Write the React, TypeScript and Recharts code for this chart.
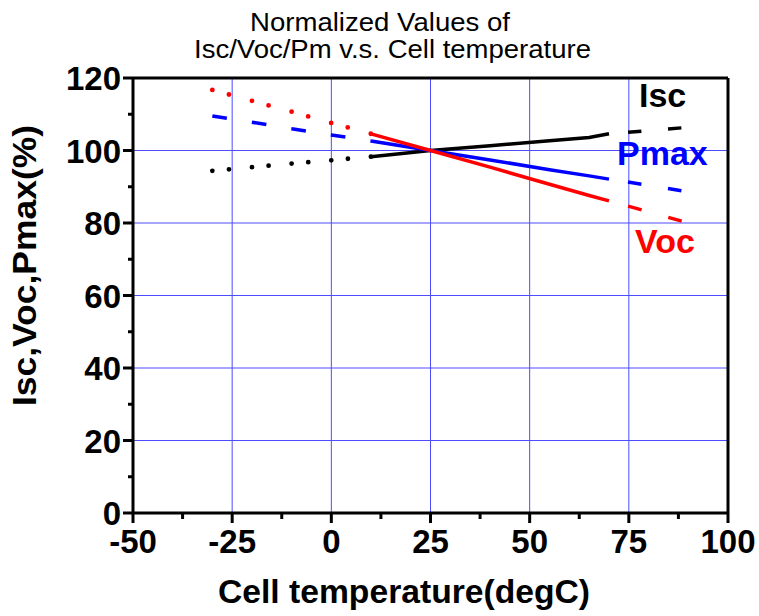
import React from "react";
import { LineChart, Line, XAxis, YAxis, CartesianGrid, ReferenceLine } from "recharts";

// temperatures (degC) for each piece of the curves
const tempLeft = [-30, -20, -10, 0, 10];
const tempMid = [10, 25, 40, 55, 65, 70];
const tempRight = [70, 80, 90];

// normalized values (%)
const iscLeft = [94.4, 95.4, 96.4, 97.3, 98.3];
const iscMid = [98.3, 100, 101.3, 102.7, 103.6, 104.6];
const iscRight = [104.6, 105.5, 106.4];

const vocLeft = [116.7, 113.7, 110.7, 107.6, 104.6];
const vocMid = [104.6, 100, 95.4, 90.7, 87.6, 86.1];
const vocRight = [86.1, 83.1, 80.0];

const pmaxLeft = [109.5, 107.8, 106.0, 104.3, 102.6];
const pmaxMid = [102.6, 100, 97.4, 94.7, 93.0, 92.1];
const pmaxRight = [92.1, 90.4, 88.6];

const xMajor = [-50, -25, 0, 25, 50, 75, 100];
const xMinor = [-37.5, -12.5, 12.5, 37.5, 62.5, 87.5];
const yMajor = [0, 20, 40, 60, 80, 100, 120];
const yMinor = [10, 30, 50, 70, 90, 110];

const FONT = "'Liberation Sans', Arial, sans-serif";
const RED = "#ff0000";
const BLUE = "#0000ff";
const BLACK = "#000000";
const GRID = "#4d4dff";

const toRows = (temps: number[], vals: number[]) =>
  temps.map((t, i) => ({ t, v: vals[i] }));

// tickSize/tickMargin are 0, so x,y is the point where the tick meets the axis
const XTick = (props: any) => {
  const { x, y, payload } = props;
  const major = xMajor.includes(payload.value);
  return (
    <g>
      <line x1={x} x2={x} y1={y} y2={y + (major ? 10 : 6)} stroke={BLACK} strokeWidth={3} />
      {major && (
        <text x={x} y={y + 40} textAnchor="middle" fontFamily={FONT} fontSize={33} fontWeight="bold" fill={BLACK}>
          {payload.value}
        </text>
      )}
    </g>
  );
};

const YTick = (props: any) => {
  const { x, y, payload } = props;
  const major = yMajor.includes(payload.value);
  return (
    <g>
      <line x1={x - (major ? 10 : 5)} x2={x} y1={y} y2={y} stroke={BLACK} strokeWidth={3} />
      {major && (
        <text x={x - 12} y={y + 12} textAnchor="end" fontFamily={FONT} fontSize={33} fontWeight="bold" fill={BLACK}>
          {payload.value}
        </text>
      )}
    </g>
  );
};

export default function App() {
  const W = 759;
  const H = 616;

  return (
    <div style={{ position: "absolute", left: 0, top: 0, width: W, height: H, background: "#fff" }}>
      <LineChart width={W} height={H} margin={{ top: 78, right: 31, bottom: 63, left: 73 }}>
        <CartesianGrid
          stroke={GRID}
          strokeWidth={1}
          horizontalValues={yMajor.slice(1, -1)}
          verticalValues={xMajor.slice(1, -1)}
        />
        <XAxis
          type="number"
          dataKey="t"
          domain={[-50, 100]}
          ticks={[...xMajor, ...xMinor].sort((a, b) => a - b)}
          interval={0}
          height={40}
          tickSize={0}
          tickMargin={0}
          tickLine={false}
          tick={<XTick />}
          axisLine={{ stroke: BLACK, strokeWidth: 3 }}
          allowDataOverflow
        />
        <YAxis
          type="number"
          domain={[0, 120]}
          ticks={[...yMajor, ...yMinor].sort((a, b) => a - b)}
          interval={0}
          width={60}
          tickSize={0}
          tickMargin={0}
          tickLine={false}
          tick={<YTick />}
          axisLine={{ stroke: BLACK, strokeWidth: 3 }}
          allowDataOverflow
        />
        <ReferenceLine y={120} stroke={BLACK} strokeWidth={3} />
        <ReferenceLine x={100} stroke={BLACK} strokeWidth={3} />

        {/* Isc */}
        <Line data={toRows(tempLeft, iscLeft)} dataKey="v" stroke={BLACK} strokeWidth={4.8} strokeLinecap="round" strokeDasharray="0 16.7 0 23.1" dot={false} isAnimationActive={false} />
        <Line data={toRows(tempMid, iscMid)} dataKey="v" stroke={BLACK} strokeWidth={3.5} dot={false} isAnimationActive={false} />
        <Line data={toRows(tempRight, iscRight)} dataKey="v" stroke={BLACK} strokeWidth={3.5} strokeDasharray="13.4 26.7" strokeDashoffset={21} dot={false} isAnimationActive={false} />

        {/* Pmax */}
        <Line data={toRows(tempLeft, pmaxLeft)} dataKey="v" stroke={BLUE} strokeWidth={3.5} strokeDasharray="14.7 25.3" dot={false} isAnimationActive={false} />
        <Line data={toRows(tempMid, pmaxMid)} dataKey="v" stroke={BLUE} strokeWidth={3.5} dot={false} isAnimationActive={false} />
        <Line data={toRows(tempRight, pmaxRight)} dataKey="v" stroke={BLUE} strokeWidth={3.5} strokeDasharray="13.6 26.9" strokeDashoffset={21.3} dot={false} isAnimationActive={false} />

        {/* Voc */}
        <Line data={toRows(tempLeft, vocLeft)} dataKey="v" stroke={RED} strokeWidth={4.8} strokeLinecap="round" strokeDasharray="0 17.2 0 23.9" dot={false} isAnimationActive={false} />
        <Line data={toRows(tempMid, vocMid)} dataKey="v" stroke={RED} strokeWidth={3.5} dot={false} isAnimationActive={false} />
        <Line data={toRows(tempRight, vocRight)} dataKey="v" stroke={RED} strokeWidth={3.5} strokeDasharray="14 27.7" strokeDashoffset={21.9} dot={false} isAnimationActive={false} />
      </LineChart>

      <svg width={W} height={H} style={{ position: "absolute", left: 0, top: 0, pointerEvents: "none" }}>
        <g fontFamily={FONT}>
          <text x={380} y={31} fontSize={25} textAnchor="middle" textLength={260} lengthAdjust="spacingAndGlyphs">
            Normalized Values of
          </text>
          <text x={392.5} y={58} fontSize={25} textAnchor="middle" textLength={397} lengthAdjust="spacingAndGlyphs">
            Isc/Voc/Pm v.s. Cell temperature
          </text>
          <text x={404} y={603} fontSize={33} fontWeight="bold" textAnchor="middle" textLength={372} lengthAdjust="spacingAndGlyphs">
            Cell temperature(degC)
          </text>
          <text
            x={0}
            y={0}
            transform="translate(36,265.5) rotate(-90)"
            fontSize={33}
            fontWeight="bold"
            textAnchor="middle"
            textLength={281}
            lengthAdjust="spacingAndGlyphs"
          >
            Isc,Voc,Pmax(%)
          </text>
          <text x={639} y={107} fontSize={34} fontWeight="bold" fill={BLACK}>Isc</text>
          <text x={617} y={165} fontSize={34} fontWeight="bold" fill={BLUE}>Pmax</text>
          <text x={635} y={253} fontSize={34} fontWeight="bold" fill={RED}>Voc</text>
        </g>
      </svg>
    </div>
  );
}
